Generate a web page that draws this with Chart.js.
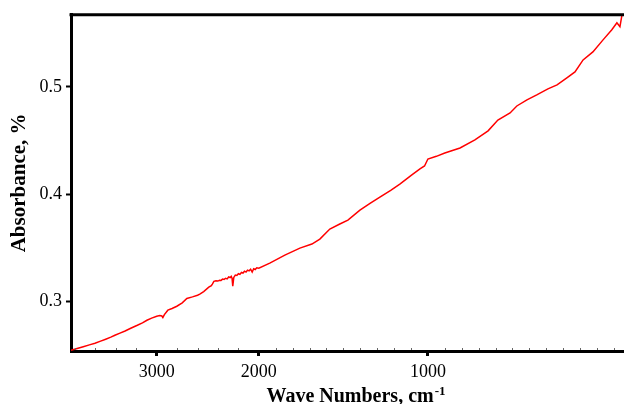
<!DOCTYPE html>
<html lang="en">
<head>
	<meta charset="UTF-8">
	<title>Absorbance spectrum</title>
	<style>
	* { margin: 0; padding: 0; box-sizing: border-box; }
	body { background: #fff; }
	.chartbox { width: 624px; height: 404px; }
	</style>
</head>
<body>
	<div class="chartbox">
		<canvas id="myChart" width="624" height="404"></canvas>
	</div>

<script src="https://cdn.jsdelivr.net/npm/chart.js"></script>

<script>
// data
const wavenumbers = [3840, 3780, 3720, 3660, 3605, 3550, 3500, 3450, 3410, 3360, 3310, 3260, 3233, 3190, 3140, 3096, 3050, 3000,
	2970, 2950, 2940, 2925, 2891, 2850, 2803, 2750, 2705, 2650, 2600, 2578, 2540, 2490, 2465, 2455, 2440, 2420, 2400,
	2385, 2370, 2355, 2340, 2325, 2310, 2295, 2280, 2270, 2262, 2255, 2245, 2230, 2215, 2200, 2185, 2170, 2155, 2140,
	2125, 2110, 2095, 2080, 2065, 2050, 2035, 2020, 2000, 1935, 1846, 1757, 1686, 1639, 1580, 1521, 1473, 1402, 1340,
	1284, 1220, 1166, 1095, 1047, 1020, 1000, 975, 950, 905, 861, 822, 793, 757, 737, 707, 678, 645, 618, 589, 565,
	541, 512, 482, 456, 441, 432, 426, 420];
const absorbance = [0.2542, 0.2558, 0.2575, 0.2592, 0.2607, 0.2627, 0.2645, 0.2664, 0.2682, 0.2702, 0.2722, 0.2745, 0.2757, 0.2775, 0.2798, 0.2822, 0.2842, 0.2860,
	0.2866, 0.2862, 0.2848, 0.2875, 0.2916, 0.2932, 0.2953, 0.2985, 0.3025, 0.3040, 0.3055, 0.3065, 0.3090, 0.3131, 0.3145, 0.3160, 0.3185, 0.3190, 0.3188,
	0.3196, 0.3194, 0.3206, 0.3203, 0.3214, 0.3208, 0.3226, 0.3221, 0.3232, 0.3215, 0.3140, 0.3222, 0.3244, 0.3240, 0.3256, 0.3250, 0.3268, 0.3263, 0.3280,
	0.3272, 0.3290, 0.3283, 0.3298, 0.3272, 0.3303, 0.3296, 0.3312, 0.3308, 0.3355, 0.3430, 0.3495, 0.3533, 0.3579, 0.3673, 0.3720, 0.3757, 0.3850, 0.3915,
	0.3972, 0.4035, 0.4093, 0.4178, 0.4234, 0.4262, 0.4327, 0.4352, 0.4383, 0.4430, 0.4505, 0.4590, 0.4690, 0.4757, 0.4822, 0.4879, 0.4925, 0.4981, 0.5019, 0.5084, 0.5140,
	0.5252, 0.5327, 0.5439, 0.5533, 0.5598, 0.5561, 0.5673, 0.5690];

const xTicks = [3000, 2000, 1000];
const xMinor = [3800, 3600, 3400, 3200, 2800, 2600, 2400, 2200, 1900, 1800, 1700, 1600, 1500, 1400, 1300, 1200, 1100,
	950, 900, 850, 800, 750, 700, 650, 600, 550, 500, 450];
const yTicks = [0.3, 0.4, 0.5];

// the wave number axis is stretched below 2000 and again below 1000
const xBreaks = [3840, 2000, 1000, 420];
const xBreakFrac = [0, 0.3396, 0.6454, 1];

const serif = '"Liberation Serif", "Times New Roman", serif';

function fracForValue(v){
	for (let i = 0; i < xBreaks.length - 1; i++) {
		if (v >= xBreaks[i + 1] || i === xBreaks.length - 2) {
			const a = xBreaks[i], b = xBreaks[i + 1];
			return xBreakFrac[i] + (a - v) / (a - b) * (xBreakFrac[i + 1] - xBreakFrac[i]);
		}
	}
}
function valueForFrac(f){
	for (let i = 0; i < xBreakFrac.length - 1; i++) {
		if (f <= xBreakFrac[i + 1] || i === xBreakFrac.length - 2) {
			const t = (f - xBreakFrac[i]) / (xBreakFrac[i + 1] - xBreakFrac[i]);
			return xBreaks[i] - t * (xBreaks[i] - xBreaks[i + 1]);
		}
	}
}

const Base = Chart.LinearScale || Chart.registry.getScale('linear');
class BrokenScale extends Base {
	getPixelForValue(value){
		return this.left + fracForValue(value) * this.width;
	}
	getValueForPixel(pixel){
		return valueForFrac((pixel - this.left) / this.width);
	}
}
BrokenScale.id = 'broken';
BrokenScale.defaults = Base.defaults;
Chart.register(BrokenScale);

// top frame line, minor ticks and the x title with its superscript
const extras = {
	id: 'extras',
	afterDraw(chart){
		const {ctx, chartArea: a} = chart;
		const x = chart.scales.x;
		ctx.save();
		ctx.strokeStyle = '#000';
		ctx.lineWidth = 3;
		ctx.beginPath();
		ctx.moveTo(a.left - 1.5, a.top);
		ctx.lineTo(a.right, a.top);
		ctx.stroke();

		ctx.lineWidth = 1;
		ctx.strokeStyle = '#666';
		xMinor.forEach(v => {
			const px = Math.round(x.getPixelForValue(v)) + 0.5;
			ctx.beginPath();
			ctx.moveTo(px, a.bottom - 1);
			ctx.lineTo(px, a.bottom - 3);
			ctx.stroke();
		});

		const main = 'Wave Numbers, cm';
		const sup = '-1';
		ctx.fillStyle = '#000';
		ctx.textBaseline = 'alphabetic';
		ctx.textAlign = 'left';
		ctx.font = 'bold 20px ' + serif;
		const w1 = ctx.measureText(main).width;
		ctx.font = 'bold 13px ' + serif;
		const w2 = ctx.measureText(sup).width;
		const x0 = (a.left + a.right) / 2 + 8 - (w1 + w2) / 2;
		ctx.font = 'bold 20px ' + serif;
		ctx.fillText(main, x0, a.bottom + 51);
		ctx.font = 'bold 13px ' + serif;
		ctx.fillText(sup, x0 + w1 + 1, a.bottom + 44);
		ctx.restore();
	}
};

const data = {
	datasets: [{
		data: wavenumbers.map((w, i) => ({x: w, y: absorbance[i]})),
		borderColor: '#ff0000',
		borderWidth: 1.5,
		pointRadius: 0,
		tension: 0,
		fill: false
	}]
};

const config = {
	type: 'line',
	data,
	plugins: [extras],
	options: {
		responsive: false,
		animation: false,
		devicePixelRatio: 1,
		layout: {padding: {top: 14, right: 0, left: 0, bottom: 0}},
		plugins: {legend: {display: false}, tooltip: {enabled: false}},
		scales: {
			x: {
				type: 'broken',
				position: 'bottom',
				min: 420,
				max: 3840,
				afterBuildTicks: s => { s.ticks = xTicks.map(v => ({value: v})); },
				afterFit: s => { s.height = 53; },
				ticks: {
					callback: v => String(v),
					font: {family: serif, size: 18},
					color: '#000',
					padding: 5,
					maxRotation: 0,
					autoSkip: false
				},
				grid: {drawOnChartArea: false, tickLength: 5, tickWidth: 3, tickColor: '#000'},
				border: {display: true, width: 3, color: '#000'}
			},
			y: {
				type: 'linear',
				min: 0.2535,
				max: 0.5673,
				afterBuildTicks: s => { s.ticks = yTicks.map(v => ({value: v})); },
				afterFit: s => { s.width = 71; },
				ticks: {
					callback: v => v.toFixed(1),
					font: {family: serif, size: 18},
					color: '#000',
					padding: 4
				},
				title: {
					display: true,
					text: 'Absorbance, %',
					color: '#000',
					font: {family: serif, size: 21, weight: 'bold'},
					padding: {top: 7, bottom: 0}
				},
				grid: {drawOnChartArea: false, tickLength: 5, tickWidth: 2, tickColor: '#000'},
				border: {display: true, width: 3, color: '#000'}
			}
		}
	}
};

const myChart = new Chart(document.getElementById('myChart'), config);
</script>
</body>
</html>
